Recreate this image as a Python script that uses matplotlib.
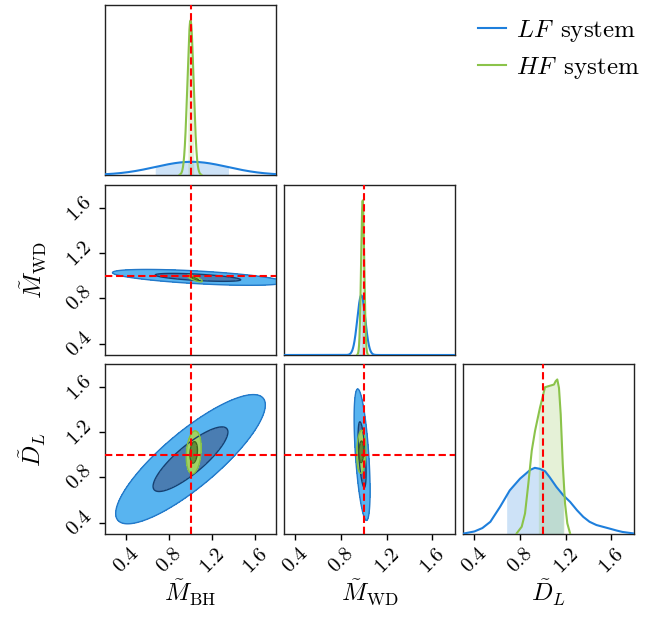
import numpy as np
import matplotlib
matplotlib.use("Agg")
import matplotlib.pyplot as plt
from matplotlib.lines import Line2D

plt.rcParams['mathtext.fontset'] = 'cm'
plt.rcParams['font.family'] = 'serif'
plt.rcParams['font.serif'] = ['cmr10', 'DejaVu Serif']
plt.rcParams['axes.formatter.use_mathtext'] = True

# ---------------- data ----------------
labels = [r"$\tilde{M}_{\rm BH}$", r"$\tilde{M}_{\rm WD}$", r"$\tilde{D}_L$"]
limits = [(0.2, 1.8), (0.3, 1.8), (0.3, 1.8)]
tick_values = [0.4, 0.8, 1.2, 1.6]
tick_labels = ["0.4", "0.8", "1.2", "1.6"]
truth = [1.0, 1.0, 1.0]
series_names = [r"$LF\enspace{\rm system}$", r"$HF\enspace{\rm system}$"]

# 1D marginals of M_BH and M_WD (mean, sigma)
lf_mean_1d = [1.01, 0.978]
lf_sigma_1d = [0.34, 0.035]
hf_mean_1d = [1.0, 0.99]
hf_sigma_1d = [0.029, 0.0135]

# D_L marginals (relative heights)
lf_dl_x = [0.30, 0.40, 0.47, 0.54, 0.625, 0.71, 0.80, 0.89, 0.93, 0.975, 1.02, 1.06,
           1.12, 1.18, 1.24, 1.30, 1.355, 1.41, 1.47, 1.53, 1.58, 1.65, 1.70, 1.80]
lf_dl_y = [0.002, 0.015, 0.035, 0.072, 0.16, 0.257, 0.326, 0.378, 0.39, 0.384, 0.37, 0.335,
           0.277, 0.228, 0.189, 0.14, 0.101, 0.072, 0.053, 0.042, 0.033, 0.02, 0.012, 0.003]
hf_dl_x = [0.771, 0.815, 0.844, 0.873, 0.903, 0.932, 0.975, 1.004, 1.019, 1.048, 1.078,
           1.098, 1.113, 1.127, 1.142, 1.157, 1.175, 1.195, 1.215, 1.239]
hf_dl_y = [0.004, 0.043, 0.121, 0.296, 0.491, 0.608, 0.744, 0.823, 0.865, 0.871, 0.877,
           0.881, 0.901, 0.911, 0.861, 0.706, 0.413, 0.18, 0.063, 0.004]

# shaded 1-sigma intervals of the marginals
lf_interval = [(0.67, 1.355), (0.955, 1.01), (0.683, 1.18)]
hf_interval = [(0.975, 1.03), (0.98, 1.0), (0.961, 1.186)]

# 2D panels: (column parameter, row parameter)
pairs = [(0, 1), (0, 2), (1, 2)]
lf_mx = [1.07, 1.0, 0.985]
lf_my = [0.985, 0.96, 1.0]
lf_sx = [0.40, 0.35, 0.035]
lf_sy = [0.035, 0.285, 0.29]
lf_rho = [-0.6, 0.84, -0.55]
hf_mx = [1.04, 1.03, 0.978]
hf_my = [0.975, 1.02, 1.025]
hf_sx = [0.035, 0.035, 0.02]
hf_sy = [0.015, 0.095, 0.095]
hf_rho = [-0.8, 0.2, 0.1]

# ---------------- styles ----------------
lf_line = "#1E7FDC"
hf_line = "#8BC34A"
lf_fill = ("#58B4F0", "#4A7DB2")   # outer, inner
lf_edge = ("#2378C8", "#163F70")
hf_fill = ("#A0D264", "#648C3C")
hf_edge = ("#82BE46", "#3F6420")

fig = plt.figure(figsize=(6.62, 6.18), dpi=100)
W, H = 662.0, 618.0
col_left = [105, 284, 463]
row_top = [5, 185, 364]
aw, ah = 171, 170

axes = {}
for r in range(3):
    for c in range(r + 1):
        ax = fig.add_axes([col_left[c] / W, 1 - (row_top[r] + ah) / H, aw / W, ah / H])
        axes[(r, c)] = ax
        ax.set_xlim(*limits[c])
        if r != c:
            ax.set_ylim(*limits[r])
        for s in ax.spines.values():
            s.set_linewidth(1.0)
            s.set_color("#222222")
        ax.tick_params(direction="out", length=4, width=1, labelsize=15)
        if r == 2:
            ax.set_xticks(tick_values)
            ax.set_xticklabels(tick_labels, rotation=45)
            ax.set_xlabel(labels[c], fontsize=18, labelpad=1)
        else:
            ax.set_xticks([])
        if c == 0 and r > 0:
            ax.set_yticks(tick_values)
            ax.set_yticklabels(tick_labels, rotation=45, va="center")
            ax.set_ylabel(labels[r], fontsize=18, labelpad=11)
        else:
            ax.set_yticks([])


def gauss(x, m, s):
    return np.exp(-0.5 * ((x - m) / s) ** 2) / (s * np.sqrt(2 * np.pi))


# diagonal
for i in range(3):
    ax = axes[(i, i)]
    if i < 2:
        xlf = np.linspace(limits[i][0], limits[i][1], 2000)
        ylf = gauss(xlf, lf_mean_1d[i], lf_sigma_1d[i])
        xhf = np.linspace(hf_mean_1d[i] - 3.5 * hf_sigma_1d[i], hf_mean_1d[i] + 3.5 * hf_sigma_1d[i], 600)
        yhf = gauss(xhf, hf_mean_1d[i], hf_sigma_1d[i])
    else:
        xlf, ylf = np.array(lf_dl_x), np.array(lf_dl_y)
        xhf, yhf = np.array(hf_dl_x), np.array(hf_dl_y)
    for xs, ys, col, iv in [(xlf, ylf, lf_line, lf_interval[i]), (xhf, yhf, hf_line, hf_interval[i])]:
        ax.plot(xs, ys, color=col, lw=1.5, zorder=3)
        xf = np.linspace(iv[0], iv[1], 300)
        ax.fill_between(xf, 0, np.interp(xf, xs, ys), color=col, alpha=0.22, lw=0, zorder=2)
    ax.set_ylim(0, 1.1 * max(np.max(ylf), np.max(yhf)))
    ax.axvline(truth[i], color="red", ls="--", lw=1.5, dashes=(3.5, 1.8), zorder=5)


def draw2d(ax, mx, my, sx, sy, rho, fills, edges, xl, yl):
    x = np.linspace(xl[0], xl[1], 700)
    y = np.linspace(yl[0], yl[1], 700)
    X, Y = np.meshgrid(x, y)
    dx = (X - mx) / sx
    dy = (Y - my) / sy
    D2 = (dx ** 2 - 2 * rho * dx * dy + dy ** 2) / (1 - rho ** 2)
    ax.contourf(X, Y, D2, levels=[0, 1, 4], colors=[fills[1], fills[0]], zorder=2)
    ax.contour(X, Y, D2, levels=[1, 4], colors=[edges[1], edges[0]], linewidths=1.0, zorder=3)


for k, (c, r) in enumerate(pairs):
    ax = axes[(r, c)]
    draw2d(ax, lf_mx[k], lf_my[k], lf_sx[k], lf_sy[k], lf_rho[k], lf_fill, lf_edge, limits[c], limits[r])
    draw2d(ax, hf_mx[k], hf_my[k], hf_sx[k], hf_sy[k], hf_rho[k], hf_fill, hf_edge, limits[c], limits[r])
    ax.axvline(truth[c], color="red", ls="--", lw=1.5, dashes=(3.5, 1.8), zorder=5)
    ax.axhline(truth[r], color="red", ls="--", lw=1.5, dashes=(3.5, 1.8), zorder=5)

fig.align_ylabels([axes[(1, 0)], axes[(2, 0)]])

handles = [Line2D([], [], color=lf_line, lw=1.5), Line2D([], [], color=hf_line, lw=1.5)]
fig.legend(handles, series_names, loc="upper right", bbox_to_anchor=(1.0, 1.008),
           frameon=False, fontsize=18, handlelength=1.1, handletextpad=0.4, labelspacing=0.45)

fig.savefig("out.png", dpi=100)
